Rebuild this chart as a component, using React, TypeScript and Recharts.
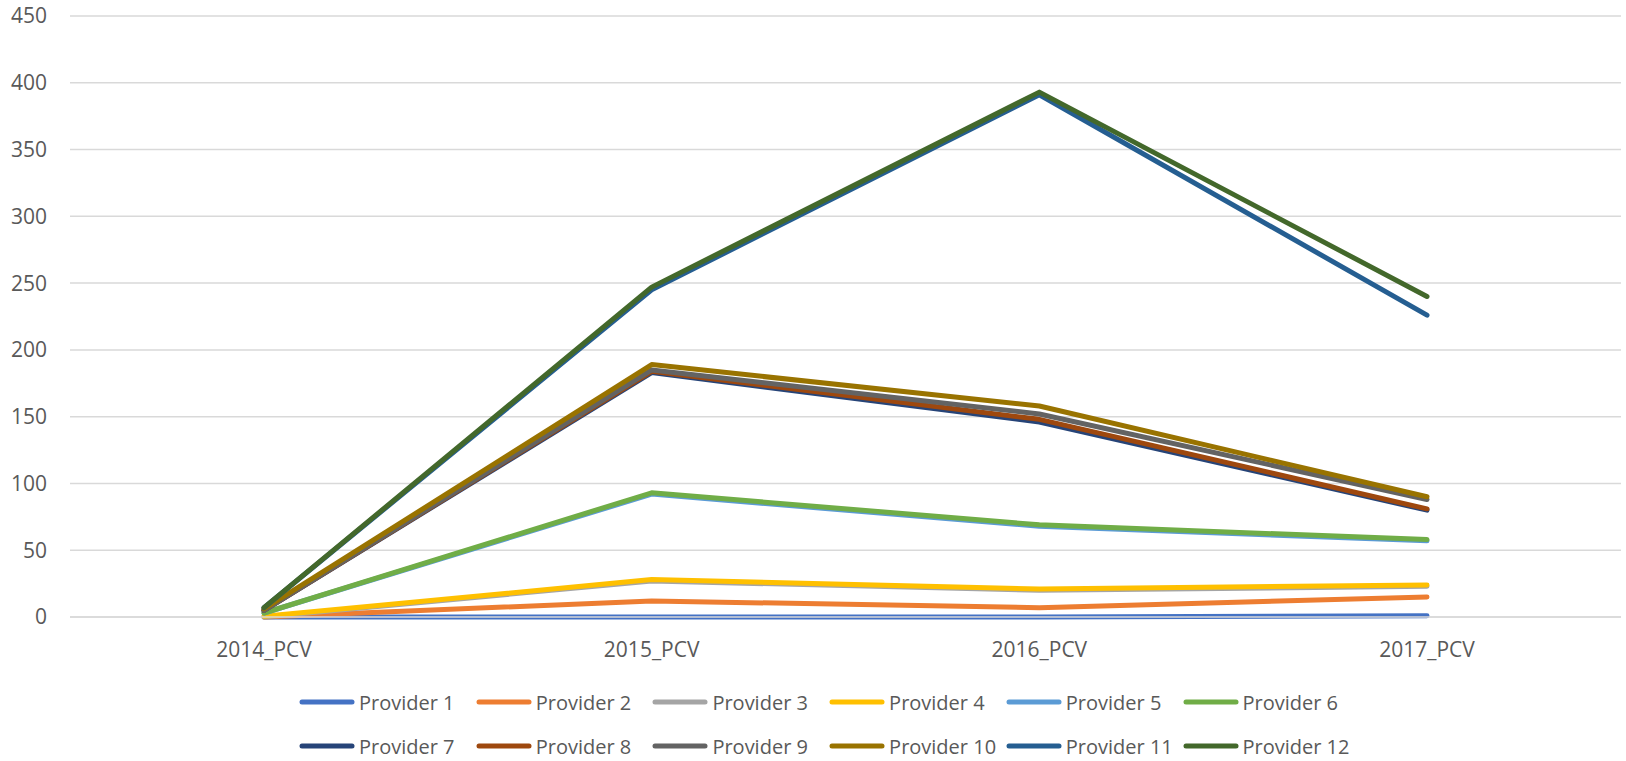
import React from 'react';
import {
  LineChart,
  Line,
  XAxis,
  YAxis,
  CartesianGrid,
  Legend,
} from 'recharts';

const categories = ['2014_PCV', '2015_PCV', '2016_PCV', '2017_PCV'];

const provider1 = [0, 0, 0, 1];
const provider2 = [0, 12, 7, 15];
const provider3 = [0, 27, 20, 23];
const provider4 = [0.5, 28, 21, 24];
const provider5 = [3, 92, 68, 57];
const provider6 = [3, 93, 69, 58];
const provider7 = [5, 183, 146, 80];
const provider8 = [5, 184, 148, 81];
const provider9 = [5, 185, 152, 88];
const provider10 = [6, 189, 158, 90];
const provider11 = [7, 245, 391, 226];
const provider12 = [7, 247, 393, 240];

const yTicks = [0, 50, 100, 150, 200, 250, 300, 350, 400, 450];

const series = [
  { key: 'Provider 1', values: provider1, color: '#4472C4' },
  { key: 'Provider 2', values: provider2, color: '#ED7D31' },
  { key: 'Provider 3', values: provider3, color: '#A5A5A5' },
  { key: 'Provider 4', values: provider4, color: '#FFC000' },
  { key: 'Provider 5', values: provider5, color: '#5B9BD5' },
  { key: 'Provider 6', values: provider6, color: '#70AD47' },
  { key: 'Provider 7', values: provider7, color: '#264478' },
  { key: 'Provider 8', values: provider8, color: '#9E480E' },
  { key: 'Provider 9', values: provider9, color: '#636363' },
  { key: 'Provider 10', values: provider10, color: '#997300' },
  { key: 'Provider 11', values: provider11, color: '#255E91' },
  { key: 'Provider 12', values: provider12, color: '#43682B' },
];

const data = categories.map((name, i) => {
  const row: Record<string, string | number> = { name };
  series.forEach(s => {
    row[s.key] = s.values[i];
  });
  return row;
});

const FONT = '"Open Sans", "DejaVu Sans", sans-serif';
const TEXT = '#595959';

// Excel-style legend: 6 fixed-width columns, two rows
const GridLegend = () => (
  <div style={{ position: 'relative', width: 1626, height: 94, fontFamily: FONT }}>
    {series.map((s, i) => {
      const col = i % 6;
      const row = Math.floor(i / 6);
      return (
        <div
          key={s.key}
          style={{
            position: 'absolute',
            left: 299 + col * 176.7,
            top: 35 + row * 44 - 14,
            height: 28,
            display: 'flex',
            alignItems: 'center',
            whiteSpace: 'nowrap',
          }}
        >
          <svg width={56} height={10} style={{ display: 'block' }}>
            <line x1={3} y1={5} x2={53} y2={5} stroke={s.color} strokeWidth={5} strokeLinecap="round" />
          </svg>
          <span style={{ marginLeft: 4, fontSize: 20, color: TEXT }}>{s.key}</span>
        </div>
      );
    })}
  </div>
);

export default function App() {
  return (
    <div style={{ position: 'absolute', left: 0, top: 0, width: 1626, height: 761, background: '#fff' }}>
      <LineChart
        width={1626}
        height={761}
        data={data}
        margin={{ top: 16, right: 5, left: 0, bottom: 0 }}
      >
        <CartesianGrid vertical={false} stroke="#d9d9d9" strokeWidth={1.5} />
        <XAxis
          dataKey="name"
          height={50}
          padding={{ left: 194, right: 194 }}
          axisLine={{ stroke: '#d9d9d9', strokeWidth: 1.5 }}
          tickLine={false}
          tickSize={0}
          tickMargin={25}
          tick={{ fill: TEXT, fontSize: 21, fontFamily: FONT }}
        />
        <YAxis
          width={70}
          domain={[0, 450]}
          ticks={yTicks}
          axisLine={false}
          tickLine={false}
          tickSize={0}
          tickMargin={23}
          tick={{ fill: TEXT, fontSize: 21, fontFamily: FONT }}
        />
        <Legend
          verticalAlign="bottom"
          width={1626}
          height={94}
          wrapperStyle={{ left: 0, bottom: 0 }}
          content={() => <GridLegend />}
        />
        {series.map(s => (
          <Line
            key={s.key}
            type="linear"
            dataKey={s.key}
            stroke={s.color}
            strokeWidth={5}
            strokeLinecap="round"
            strokeLinejoin="round"
            dot={false}
            activeDot={false}
            isAnimationActive={false}
          />
        ))}
      </LineChart>
    </div>
  );
}
